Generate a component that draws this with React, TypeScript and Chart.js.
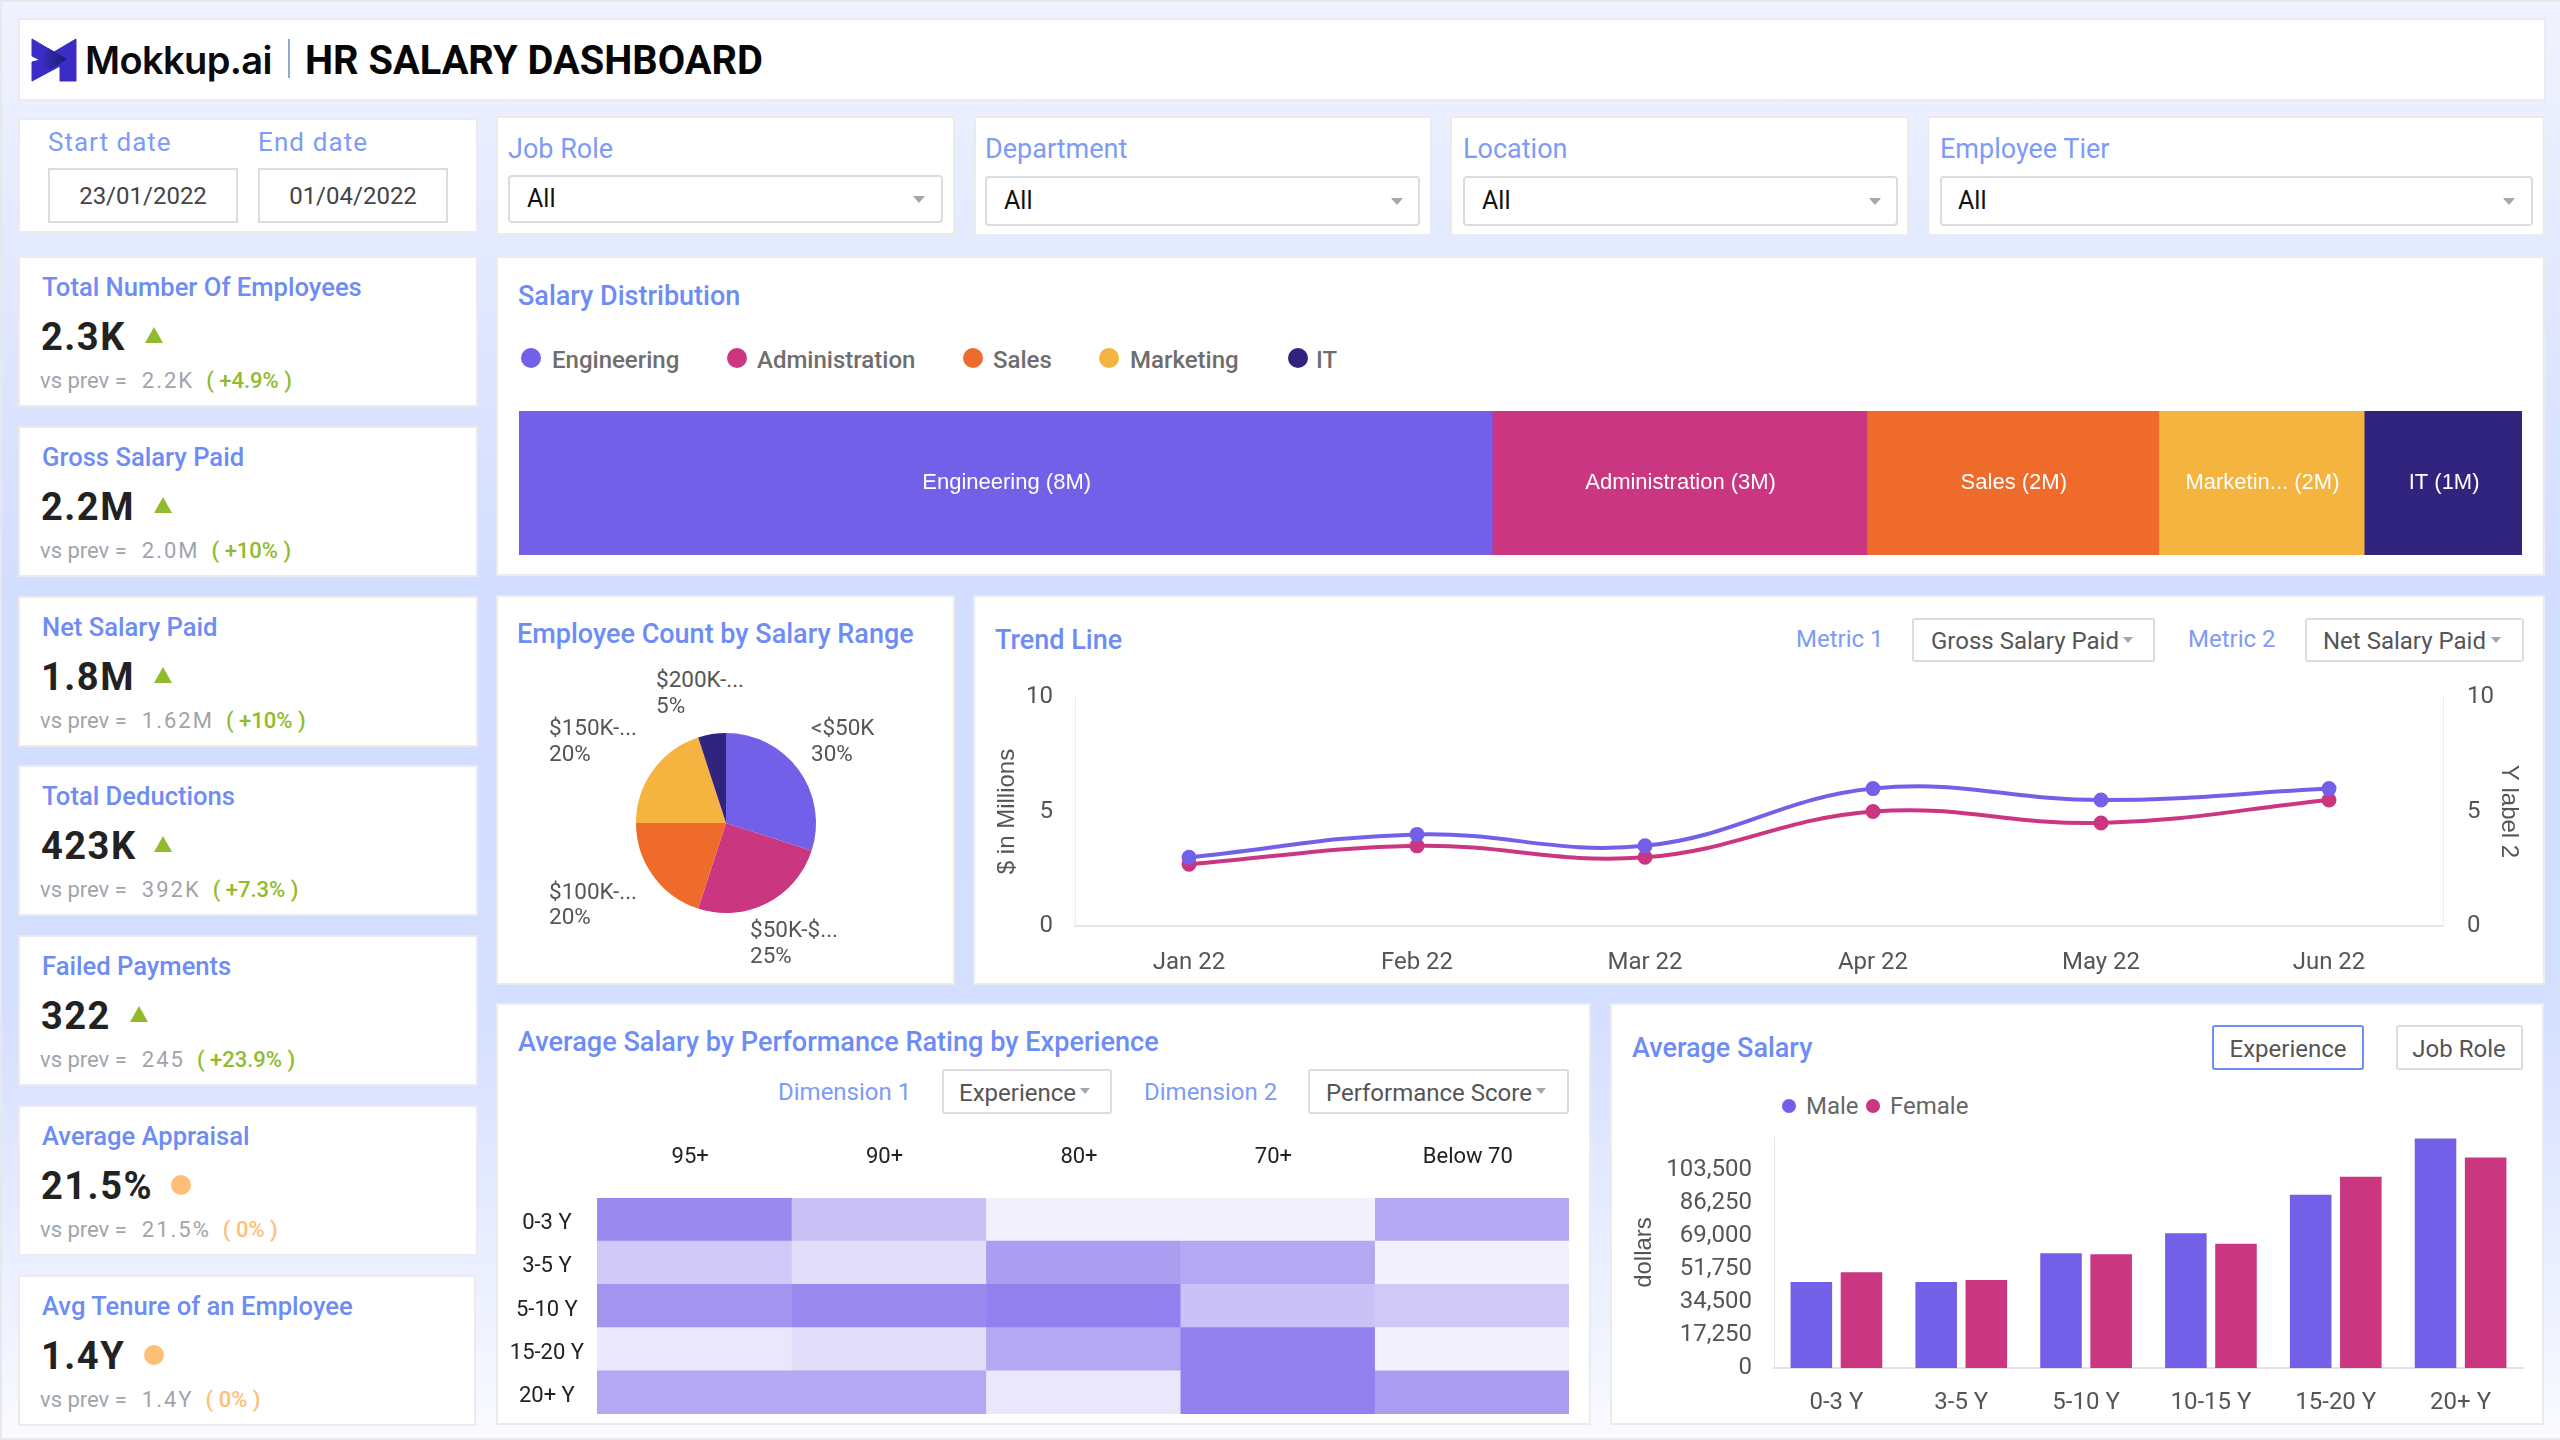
import React, { useEffect, useRef } from "react";
import { Chart, registerables } from "chart.js";

Chart.register(...registerables);

const PURPLE = "#7360e8";
const PINK = "#ca3680";
const ORANGE = "#ee6b2c";
const YELLOW = "#f5b33f";
const NAVY = "#31247f";
const BLUE = "#6e8cf5";
const LIGHTBLUE = "#7d9bf7";

// KPI cards
const kpiTitles = ["Total Number Of Employees", "Gross Salary Paid", "Net Salary Paid", "Total Deductions", "Failed Payments", "Average Appraisal", "Avg Tenure of an Employee"];
const kpiValues = ["2.3K", "2.2M", "1.8M", "423K", "322", "21.5%", "1.4Y"];
const kpiPrev = ["2.2K", "2.0M", "1.62M", "392K", "245", "21.5%", "1.4Y"];
const kpiDelta = ["( +4.9% )", "( +10% )", "( +10% )", "( +7.3% )", "( +23.9% )", "( 0% )", "( 0% )"];
const kpiIsUp = [true, true, true, true, true, false, false];

// Salary distribution
const deptNames = ["Engineering", "Administration", "Sales", "Marketing", "IT"];
const deptLabels = ["Engineering (8M)", "Administration (3M)", "Sales (2M)", "Marketin... (2M)", "IT (1M)"];
const deptValues = [7.77, 2.99, 2.33, 1.64, 1.26];
const deptColors = [PURPLE, PINK, ORANGE, YELLOW, NAVY];

// Employee count by range
const pieLabels = ["<$50K", "$50K-$...", "$100K-...", "$150K-...", "$200K-..."];
const pieValues = [30, 25, 20, 20, 5];

// Trend
const months = ["Jan 22", "Feb 22", "Mar 22", "Apr 22", "May 22", "Jun 22"];
const grossSalary = [3, 4, 3.5, 6, 5.5, 6];
const netSalary = [2.7, 3.5, 3, 5, 4.5, 5.5];

// Heatmap
const heatCols = ["95+", "90+", "80+", "70+", "Below 70"];
const heatRows = ["0-3 Y", "3-5 Y", "5-10 Y", "15-20 Y", "20+ Y"];
const heat0to3 = [74, 39, 9, 9, 55];
const heat3to5 = [34, 21, 61, 55, 9];
const heat5to10 = [67, 74, 80, 39, 34];
const heat15to20 = [15, 21, 55, 80, 9];
const heat20plus = [55, 55, 15, 80, 61];
const heatTable = [heat0to3, heat3to5, heat5to10, heat15to20, heat20plus];

// Average salary
const expLabels = ["0-3 Y", "3-5 Y", "5-10 Y", "10-15 Y", "15-20 Y", "20+ Y"];
const maleSalary = [45000, 45000, 60000, 70500, 90500, 120000];
const femaleSalary = [50000, 46000, 59500, 65000, 100000, 110000];

const tickFont = { family: "Roboto", size: 24 };
const axisTitleFont = { family: "Liberation Sans", size: 24 };
const noPlugins = { legend: { display: false }, tooltip: { enabled: false } };
const noGrid = { display: false, drawTicks: false };

function heatColor(v: number) {
  const a = v / 100;
  const mix = (c: number) => Math.round(255 + (c - 255) * a);
  return `rgb(${mix(118)},${mix(96)},${mix(232)})`;
}

const treemapLabelPlugin = {
  id: "treemapLabels",
  afterDatasetsDraw(chart: any) {
    const ctx = chart.ctx;
    ctx.save();
    ctx.fillStyle = "#ffffff";
    ctx.font = "22px 'Liberation Sans'";
    ctx.textAlign = "center";
    ctx.textBaseline = "middle";
    chart.data.datasets.forEach((_: any, i: number) => {
      const bar = chart.getDatasetMeta(i).data[0];
      ctx.fillText(deptLabels[i], (bar.x + bar.base) / 2 + 1, bar.y);
    });
    ctx.restore();
  },
};

function treemapConfig(): any {
  return {
    type: "bar",
    data: {
      labels: ["Salary"],
      datasets: deptNames.map((n, i) => ({
        label: n,
        data: [deptValues[i]],
        backgroundColor: deptColors[i],
        borderWidth: 0,
        barPercentage: 1,
        categoryPercentage: 1,
      })),
    },
    options: {
      indexAxis: "y",
      animation: false,
      responsive: false,
      devicePixelRatio: 1,
      layout: { padding: 0 },
      plugins: noPlugins,
      scales: {
        x: { display: false, stacked: true, min: 0, max: deptValues.reduce((a, b) => a + b, 0) },
        y: { display: false, stacked: true },
      },
    },
    plugins: [treemapLabelPlugin],
  };
}

function pieConfig(): any {
  return {
    type: "pie",
    data: {
      labels: pieLabels,
      datasets: [{ data: pieValues, backgroundColor: [PURPLE, PINK, ORANGE, YELLOW, NAVY], borderWidth: 0 }],
    },
    options: {
      animation: false,
      responsive: false,
      devicePixelRatio: 1,
      radius: 90,
      plugins: noPlugins,
    },
  };
}

function trendConfig(): any {
  return {
    type: "line",
    data: {
      labels: months,
      datasets: [
        { label: "Gross Salary Paid", data: grossSalary, yAxisID: "y", borderColor: PURPLE, backgroundColor: PURPLE, borderWidth: 4, pointRadius: 5.5, tension: 0.4 },
        { label: "Net Salary Paid", data: netSalary, yAxisID: "y1", borderColor: PINK, backgroundColor: PINK, borderWidth: 4, pointRadius: 5.5, tension: 0.4 },
      ],
    },
    options: {
      animation: false,
      responsive: false,
      devicePixelRatio: 1,
      layout: { padding: { top: 40 } },
      plugins: noPlugins,
      scales: {
        x: {
          offset: true,
          grid: noGrid,
          border: { color: "#e4e4e6", width: 2 },
          ticks: { font: tickFont, color: "#555", padding: 23, maxRotation: 0 },
          afterFit: (s: any) => { s.height = 59; },
        },
        y: {
          min: 0, max: 10,
          grid: noGrid,
          border: { color: "#ececee", width: 1 },
          ticks: { stepSize: 5, font: tickFont, color: "#555", padding: 22 },
          title: { display: true, text: "$ in Millions", font: axisTitleFont, color: "#555", padding: { top: 20, bottom: 0 } },
          afterFit: (s: any) => { s.width = 102; },
        },
        y1: {
          position: "right", min: 0, max: 10,
          grid: noGrid,
          border: { color: "#ececee", width: 1 },
          ticks: { stepSize: 5, font: tickFont, color: "#555", padding: 24 },
          title: { display: true, text: "Y label 2", font: axisTitleFont, color: "#555", padding: { top: 22, bottom: 0 } },
          afterFit: (s: any) => { s.width = 102; },
        },
      },
    },
  };
}

function heatConfig(): any {
  return {
    type: "bar",
    data: {
      labels: heatRows,
      datasets: heatCols.map((col, c) => ({
        label: col,
        data: heatTable.map(() => 1),
        backgroundColor: heatTable.map((row) => heatColor(row[c])),
        borderWidth: 0,
        barPercentage: 1,
        categoryPercentage: 1,
      })),
    },
    options: {
      indexAxis: "y",
      animation: false,
      responsive: false,
      devicePixelRatio: 1,
      layout: { padding: { right: 20, bottom: 30 } },
      plugins: noPlugins,
      scales: {
        x: {
          position: "top", stacked: true, min: 0, max: heatCols.length,
          grid: noGrid,
          border: { display: false },
          afterBuildTicks: (s: any) => { s.ticks = heatCols.map((_, i) => ({ value: i + 0.5 })); },
          ticks: {
            font: { family: "Roboto", size: 22 }, color: "#222", padding: 27, labelOffset: -4, maxRotation: 0, autoSkip: false,
            callback: (_: any, i: number) => heatCols[i],
          },
          afterFit: (s: any) => { s.height = 73; },
        },
        y: {
          stacked: true,
          grid: noGrid,
          border: { display: false },
          ticks: { font: { family: "Roboto", size: 22 }, color: "#222", padding: 13, crossAlign: "center", labelOffset: 4 },
          afterFit: (s: any) => { s.width = 100; },
        },
      },
    },
  };
}

function salaryConfig(): any {
  const common = { borderWidth: 0, barPercentage: 0.829, categoryPercentage: 0.803 };
  return {
    type: "bar",
    data: {
      labels: expLabels,
      datasets: [
        { label: "Male", data: maleSalary, backgroundColor: PURPLE, ...common },
        { label: "Female", data: femaleSalary, backgroundColor: PINK, ...common },
      ],
    },
    options: {
      animation: false,
      responsive: false,
      devicePixelRatio: 1,
      layout: { padding: { top: 42, right: 21 } },
      plugins: noPlugins,
      scales: {
        x: {
          grid: noGrid,
          border: { color: "#e2e2e4", width: 2 },
          ticks: { font: tickFont, color: "#555", padding: 21, maxRotation: 0 },
          afterFit: (s: any) => { s.height = 57; },
        },
        y: {
          min: 0, max: 120750,
          grid: noGrid,
          border: { color: "#e6e6e8", width: 1 },
          ticks: {
            stepSize: 17250, font: tickFont, color: "#555", padding: 22, autoSkip: false,
            callback: (v: number) => (v >= 120750 ? "" : v.toLocaleString("en-US")),
          },
          title: { display: true, text: "dollars", font: axisTitleFont, color: "#555", padding: { top: 20, bottom: 0 } },
          afterFit: (s: any) => { s.width = 164; },
        },
      },
    },
  };
}

function ChartBox({ x, y, w, h, make }: any) {
  const ref = useRef<HTMLCanvasElement>(null);
  useEffect(() => {
    const chart = new Chart(ref.current as HTMLCanvasElement, make());
    return () => chart.destroy();
  }, []);
  return <canvas ref={ref} width={w} height={h} style={{ position: "absolute", left: x, top: y, width: w, height: h }} />;
}

function T({ x, y, s = 24, c = "#555", w = 400, ls = 0, center = false, f = "Roboto", children }: any) {
  return (
    <div
      style={{
        position: "absolute", left: x, top: y, fontFamily: f, fontSize: s, color: c, fontWeight: w, letterSpacing: ls,
        lineHeight: 1.2, whiteSpace: "nowrap", transform: center ? "translate(-50%,-50%)" : "translateY(-50%)",
      }}
    >
      {children}
    </div>
  );
}

function Panel({ x, y, x2, y2, border = "#ebebee", radius = 0 }: any) {
  return (
    <div
      style={{
        position: "absolute", left: x, top: y, width: x2 - x, height: y2 - y, boxSizing: "border-box",
        background: "#fff", border: `2px solid ${border}`, borderRadius: radius,
      }}
    />
  );
}

function Arrow({ x, y, size = 6 }: any) {
  return (
    <div
      style={{
        position: "absolute", left: x - size, top: y - size / 2, width: 0, height: 0,
        borderLeft: `${size}px solid transparent`, borderRight: `${size}px solid transparent`, borderTop: `${size + 1}px solid #a4a6ad`,
      }}
    />
  );
}

function Dot({ x, y, r, c }: any) {
  return <div style={{ position: "absolute", left: x - r, top: y - r, width: 2 * r, height: 2 * r, borderRadius: "50%", background: c }} />;
}

function UpTriangle({ x, y }: any) {
  return (
    <div
      style={{
        position: "absolute", left: x - 9, top: y - 8, width: 0, height: 0,
        borderLeft: "9px solid transparent", borderRight: "9px solid transparent", borderBottom: "16px solid #8fbb2c",
      }}
    />
  );
}

function Select({ label, lx, ly, x, x2, y, y2, tx, ax }: any) {
  return (
    <>
      <T x={lx} y={ly} s={27} c={LIGHTBLUE}>{label}</T>
      <Panel x={x} y={y} x2={x2} y2={y2} border="#dcdcde" radius={4} />
      <T x={tx} y={(y + y2) / 2} s={25} c="#111">All</T>
      <Arrow x={ax} y={(y + y2) / 2} />
    </>
  );
}

function Drop({ x, x2, y, y2, text, tx, ax }: any) {
  return (
    <>
      <Panel x={x} y={y} x2={x2} y2={y2} border="#dcdcde" radius={3} />
      <T x={tx} y={(y + y2) / 2 + 1} s={24} c="#555">{text}</T>
      <Arrow x={ax} y={(y + y2) / 2 - 1} size={5} />
    </>
  );
}

const kpiTriangleX = [154, 163, 163, 163, 139];
const kpiDotX = [0, 0, 0, 0, 0, 181, 154];
const deptDotX = [531, 737, 973, 1109, 1298];
const deptTextX = [552, 757, 993, 1130, 1316];

function Kpi({ i }: any) {
  const top = 256 + Math.round(169.8 * i);
  return (
    <>
      <Panel x={18} y={top} x2={i === 6 ? 476 : 478} y2={top + 151} />
      <T x={42} y={top + 31} s={25.6} c={BLUE} w={500}>{kpiTitles[i]}</T>
      <T x={41} y={top + 82} s={38} c="#222" w={700} ls={1.5}>{kpiValues[i]}</T>
      {kpiIsUp[i] ? <UpTriangle x={kpiTriangleX[i]} y={top + 79} /> : <Dot x={kpiDotX[i]} y={top + 80} r={10} c="#ffbe76" />}
      <T x={40} y={top + 125} s={22} c="#a0a4ab">
        vs prev =
        <span style={{ marginLeft: 15, letterSpacing: 2 }}>{kpiPrev[i]}</span>
        <span style={{ marginLeft: 12, color: kpiIsUp[i] ? "#8fbb2c" : "#ffbe76", fontWeight: 500 }}>{kpiDelta[i]}</span>
      </T>
    </>
  );
}

const pieText = [
  { x: 811, y: 727, a: "<$50K", b: "30%", by: 753 },
  { x: 750, y: 929, a: "$50K-$...", b: "25%", by: 955 },
  { x: 549, y: 891, a: "$100K-...", b: "20%", by: 916 },
  { x: 549, y: 727, a: "$150K-...", b: "20%", by: 753 },
  { x: 656, y: 679, a: "$200K-...", b: "5%", by: 705 },
];

export default function App() {
  useEffect(() => {
    document.body.style.margin = "0";
  }, []);
  return (
    <div
      style={{
        position: "absolute", left: 0, top: 0, width: 2560, height: 1440, overflow: "hidden", fontFamily: "Roboto",
        background: "linear-gradient(180deg,#f0f3fe 0%,#d3ddff 40%,#d4deff 70%,#fafbff 100%)",
      }}
    >
      <div style={{ position: "absolute", left: 0, top: 0, width: 2560, height: 2, background: "#e8e8ea" }} />
      <div style={{ position: "absolute", left: 0, top: 0, width: 2, height: 1440, background: "#e8e8ea" }} />
      <div style={{ position: "absolute", left: 0, top: 1438, width: 2560, height: 2, background: "#e8e8ea" }} />

      {/* header */}
      <Panel x={18} y={18} x2={2546} y2={101} />
      <svg style={{ position: "absolute", left: 30, top: 36 }} width={50} height={50} viewBox="30 36 50 50">
        <defs>
          <linearGradient id="lg" x1="0" x2="1" y1="0" y2="0">
            <stop offset="0%" stopColor="#3a2cc4" />
            <stop offset="100%" stopColor="#16206e" />
          </linearGradient>
        </defs>
        <polygon points="32,39 54,52 76,39 76,81 60,81 60,66 32,81 32,62 40,60 32,56" fill="#3a2cc4" strokeLinejoin="round" stroke="#3a2cc4" strokeWidth="1" />
        <polygon points="40,60 48,48 67,59 50,70" fill="url(#lg)" />
      </svg>
      <T x={85} y={61} s={38} c="#0b0b0f" w={600} f="Inter" ls={-0.6}>Mokkup.ai</T>
      <div style={{ position: "absolute", left: 288, top: 39, width: 2, height: 39, background: "#8fa9c9" }} />
      <T x={305} y={61} s={39.8} c="#060606" w={700}>HR SALARY DASHBOARD</T>

      {/* filters */}
      <Panel x={18} y={118} x2={478} y2={233} />
      <T x={48} y={143} s={26} c={LIGHTBLUE} ls={1}>Start date</T>
      <T x={258} y={143} s={26} c={LIGHTBLUE} ls={1.1}>End date</T>
      <Panel x={48} y={168} x2={238} y2={223} border="#dcdcde" />
      <Panel x={258} y={168} x2={448} y2={223} border="#dcdcde" />
      <T x={143} y={196} s={24} c="#444" center>23/01/2022</T>
      <T x={353} y={196} s={24} c="#444" center>01/04/2022</T>

      <Panel x={496} y={116} x2={955} y2={235} />
      <Select label="Job Role" lx={508} ly={149} x={508} x2={943} y={175} y2={223} tx={527} ax={919} />
      <Panel x={974} y={116} x2={1432} y2={236} />
      <Select label="Department" lx={985} ly={149} x={985} x2={1420} y={176} y2={226} tx={1004} ax={1397} />
      <Panel x={1450} y={116} x2={1909} y2={236} />
      <Select label="Location" lx={1463} ly={149} x={1463} x2={1898} y={176} y2={226} tx={1482} ax={1875} />
      <Panel x={1927} y={116} x2={2545} y2={236} />
      <Select label="Employee Tier" lx={1940} ly={149} x={1940} x2={2533} y={176} y2={226} tx={1958} ax={2509} />

      {/* KPI cards */}
      {kpiTitles.map((_, i) => <Kpi key={i} i={i} />)}

      {/* Salary distribution */}
      <Panel x={496} y={256} x2={2545} y2={576} />
      <T x={518} y={296} s={27} c={BLUE} w={500}>Salary Distribution</T>
      {deptNames.map((n, i) => (
        <React.Fragment key={n}>
          <Dot x={deptDotX[i]} y={358} r={10} c={deptColors[i]} />
          <T x={deptTextX[i]} y={360} s={24} c="#6e6e6e" w={500}>{n}</T>
        </React.Fragment>
      ))}
      <ChartBox x={519} y={411} w={2003} h={144} make={treemapConfig} />

      {/* Pie */}
      <Panel x={496} y={595} x2={955} y2={985} />
      <T x={517} y={634} s={27} c={BLUE} w={500}>Employee Count by Salary Range</T>
      <ChartBox x={626} y={723} w={200} h={200} make={pieConfig} />
      {pieText.map((p) => (
        <React.Fragment key={p.a}>
          <T x={p.x} y={p.y} s={22.5} c="#555">{p.a}</T>
          <T x={p.x} y={p.by} s={22.5} c="#555">{p.b}</T>
        </React.Fragment>
      ))}

      {/* Trend */}
      <Panel x={973} y={595} x2={2545} y2={985} />
      <T x={995} y={640} s={27} c={BLUE} w={500}>Trend Line</T>
      <T x={1796} y={639} s={24} c={LIGHTBLUE}>Metric 1</T>
      <Drop x={1912} x2={2155} y={618} y2={662} text="Gross Salary Paid" tx={1931} ax={2128} />
      <T x={2188} y={639} s={24} c={LIGHTBLUE}>Metric 2</T>
      <Drop x={2305} x2={2524} y={618} y2={662} text="Net Salary Paid" tx={2323} ax={2496} />
      <ChartBox x={973} y={657} w={1572} h={328} make={trendConfig} />

      {/* Heatmap */}
      <Panel x={496} y={1003} x2={1591} y2={1425} />
      <T x={518} y={1042} s={27.1} c={BLUE} w={500}>Average Salary by Performance Rating by Experience</T>
      <T x={778} y={1092} s={24} c={LIGHTBLUE}>Dimension 1</T>
      <Drop x={942} x2={1112} y={1069} y2={1114} text="Experience" tx={959} ax={1085} />
      <T x={1144} y={1092} s={24} c={LIGHTBLUE}>Dimension 2</T>
      <Drop x={1308} x2={1569} y={1069} y2={1114} text="Performance Score" tx={1326} ax={1541} />
      <ChartBox x={497} y={1125} w={1092} h={319} make={heatConfig} />

      {/* Avg salary */}
      <Panel x={1610} y={1003} x2={2544} y2={1425} />
      <T x={1632} y={1048} s={27} c={BLUE} w={500}>Average Salary</T>
      <Panel x={2212} y={1025} x2={2364} y2={1070} border={BLUE} radius={3} />
      <T x={2288} y={1049} s={24} c="#555" center>Experience</T>
      <Panel x={2396} y={1025} x2={2523} y2={1070} border="#dcdcde" radius={3} />
      <T x={2459} y={1049} s={24} c="#555" center>Job Role</T>
      <Dot x={1789} y={1106} r={7} c={PURPLE} />
      <T x={1806} y={1106} s={24} c="#666">Male</T>
      <Dot x={1873} y={1106} r={7} c={PINK} />
      <T x={1890} y={1106} s={24} c="#666">Female</T>
      <ChartBox x={1610} y={1095} w={934} h={330} make={salaryConfig} />
    </div>
  );
}
